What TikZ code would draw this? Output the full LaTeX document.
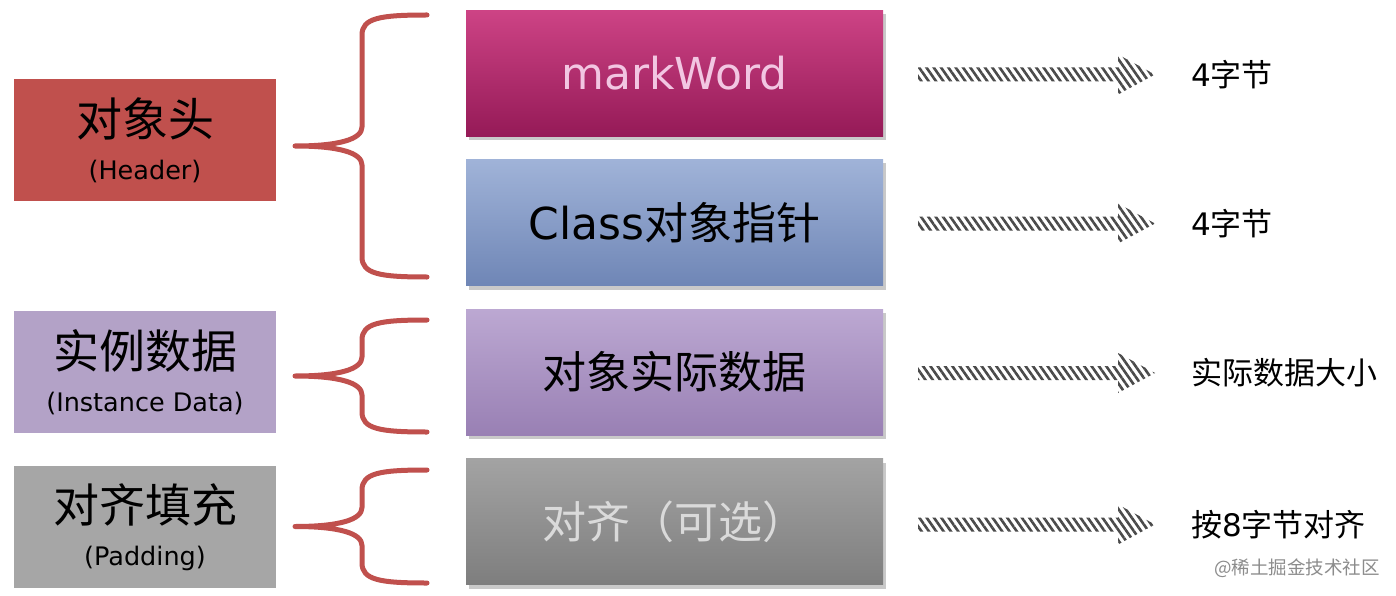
\documentclass[tikz,border=0pt]{standalone}
\usepackage{fontspec}
\setmainfont{DejaVu Sans}
\newfontfamily\cjk{Noto Sans CJK SC}
\usetikzlibrary{calc,shadows,patterns.meta}

\definecolor{headRed}{HTML}{C0504D}
\definecolor{instPurple}{HTML}{B3A2C7}
\definecolor{padGray}{HTML}{A6A6A6}
\definecolor{mwTop}{HTML}{CD4385}
\definecolor{mwBot}{HTML}{951A57}
\definecolor{clsTop}{HTML}{A0B3D8}
\definecolor{clsBot}{HTML}{6F86B6}
\definecolor{datTop}{HTML}{BCA8D2}
\definecolor{datBot}{HTML}{9980B4}
\definecolor{alnTop}{HTML}{A3A3A3}
\definecolor{alnBot}{HTML}{7E7E7E}
\definecolor{mwText}{HTML}{F2C6E2}
\definecolor{alnText}{HTML}{DADADA}
\definecolor{hatchGray}{HTML}{4A4A4A}

\tikzset{
	lbox/.style={minimum width=262pt, minimum height=122pt, inner sep=0pt, align=center,
		font=\fontsize{46}{43}\selectfont},
	mbox/.style={minimum width=417pt, minimum height=126pt, inner sep=0pt,
		font=\fontsize{44}{50}\selectfont,
		drop shadow={shadow xshift=3pt, shadow yshift=-4pt, opacity=.35, fill=black!60}},
	sizelabel/.style={anchor=west, inner sep=0pt, font=\fontsize{31}{36}\selectfont},
	brace/.style={draw=headRed, line width=5pt, line cap=round, line join=round},
	hatch/.style={pattern={Lines[angle=-55,distance=6pt,line width=2.6pt]}, pattern color=hatchGray},
}

% curly brace from top y to bottom y
\newcommand{\curly}[2]{%
	\pgfmathsetmacro{\cmid}{(#1+#2)/2}
	\draw[brace] (427,#1) .. controls (380,#1) and (362,#1+3) .. (362,#1+20)
		-- (362,\cmid-19) .. controls (362,\cmid-7) and (340,\cmid) .. (295,\cmid)
		.. controls (340,\cmid) and (362,\cmid+7) .. (362,\cmid+19)
		-- (362,#2-20) .. controls (362,#2-3) and (380,#2) .. (427,#2);}

% hatched arrow between two coordinates
\newcommand{\hatcharrow}[2]{%
	\path[hatch] let \p1=(#1), \p2=(#2) in
		(\x1,\y1+7pt) -- (\x2-37pt,\y1+7pt) -- (\x2-37pt,\y1+20pt) -- (\x2,\y1)
		-- (\x2-37pt,\y1-20pt) -- (\x2-37pt,\y1-7pt) -- (\x1,\y1-7pt) -- cycle;}

\begin{document}
\begin{tikzpicture}[x=1pt,y=-1pt]

	\useasboundingbox[fill=white] (0,0) rectangle (1396,596);

	% left column
	\node[lbox, fill=headRed] (head) at (145,140) {{\cjk 对象头}\\{\fontsize{25.5}{28}\selectfont (Header)}};
	\node[lbox, fill=instPurple] (inst) at (145,372) {{\cjk 实例数据}\\{\fontsize{25.5}{28}\selectfont (Instance Data)}};
	\node[lbox, fill=padGray] (pad) at (145,527) {{\cjk 对齐填充}\\{\fontsize{25.5}{28}\selectfont (Padding)}};

	% middle column
	\node[mbox, top color=mwTop, bottom color=mwBot, text=mwText] (mw) at (674.5,73.5) {markWord};
	\node[mbox, top color=clsTop, bottom color=clsBot] (cls) at (674.5,222.5) {Class{\cjk 对象指针}};
	\node[mbox, top color=datTop, bottom color=datBot] (dat) at (674.5,372) {\cjk 对象实际数据};
	\node[mbox, top color=alnTop, bottom color=alnBot, text=alnText] (aln) at (674.5,521.5) {\cjk 对齐（可选）};

	% right column
	\node[sizelabel] (s1) at (1191,75) {4{\cjk 字节}};
	\node[sizelabel] (s2) at (1191,224) {4{\cjk 字节}};
	\node[sizelabel] (s3) at (1191,373) {\cjk 实际数据大小};
	\node[sizelabel] (s4) at (1191,525) {{\cjk 按}8{\cjk 字节对齐}};

	% braces
	\curly{15}{277}
	\curly{320}{432}
	\curly{470}{583}

	% arrows
	\coordinate (a1s) at ($(mw.east)+(35,1)$);  \coordinate (a1e) at ($(s1.west)+(-36,0)$);
	\coordinate (a2s) at ($(cls.east)+(35,1)$); \coordinate (a2e) at ($(s2.west)+(-36,0)$);
	\coordinate (a3s) at ($(dat.east)+(35,1)$); \coordinate (a3e) at ($(s3.west)+(-36,0)$);
	\coordinate (a4s) at ($(aln.east)+(35,3)$); \coordinate (a4e) at ($(s4.west)+(-36,0)$);
	\hatcharrow{a1s}{a1e}
	\hatcharrow{a2s}{a2e}
	\hatcharrow{a3s}{a3e}
	\hatcharrow{a4s}{a4e}

	\node[text=black!45, font=\fontsize{18.5}{22}\selectfont] (wm) at (1297,568) {\cjk @稀土掘金技术社区};

\end{tikzpicture}
\end{document}
